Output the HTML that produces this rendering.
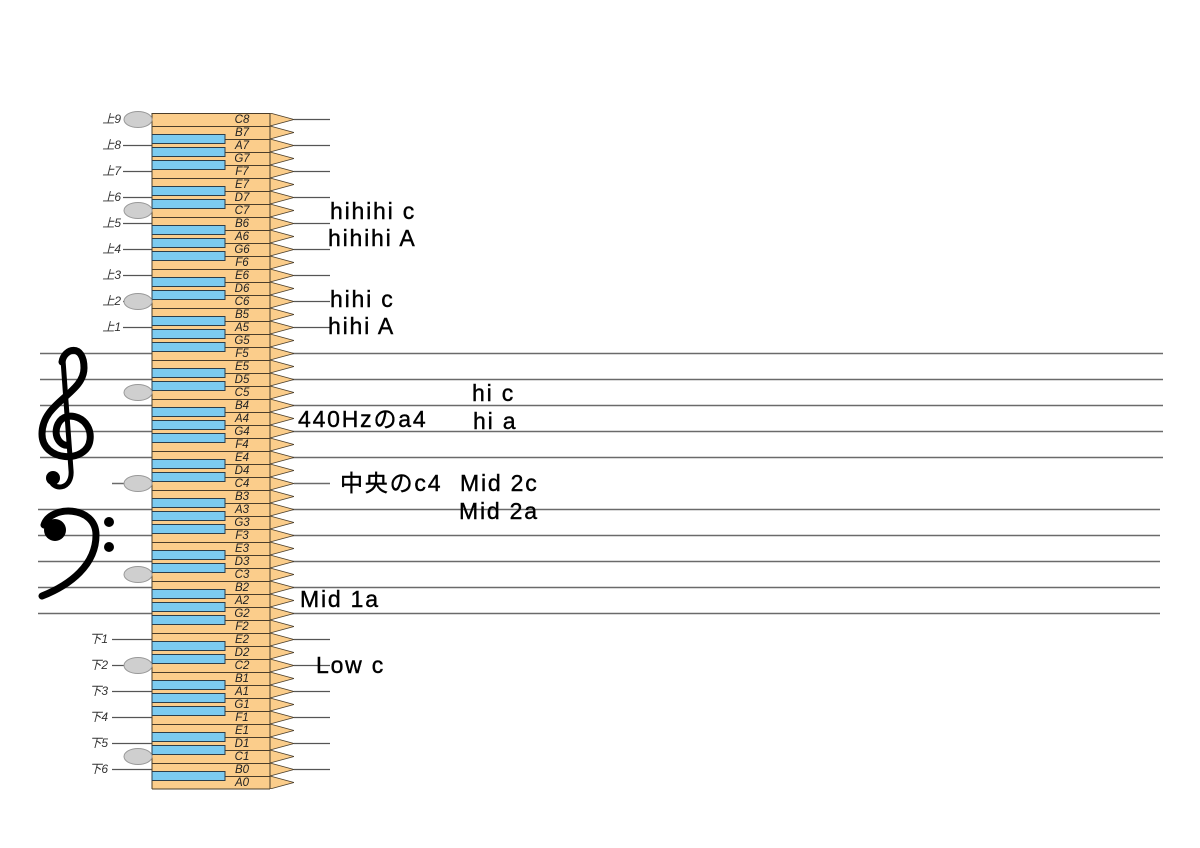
<!DOCTYPE html>
<html><head><meta charset="utf-8"><style>
html,body{margin:0;padding:0;background:#fff;width:1200px;height:848px;overflow:hidden}
svg{display:block}
.k{font-family:"Liberation Sans",sans-serif;font-style:italic;font-size:11.5px;fill:#222;text-anchor:middle}
.l{font-family:"Liberation Sans","Noto Sans CJK JP",sans-serif;font-style:italic;font-size:12px;fill:#333;text-anchor:end}
.b{font-family:"Liberation Sans","Noto Sans CJK JP",sans-serif;font-size:23px;letter-spacing:1.8px;fill:#000;stroke:#000;stroke-width:0.4}
</style></head><body>
<svg id="s" width="1200" height="848" viewBox="0 0 1200 848" xmlns="http://www.w3.org/2000/svg">
<defs>
<pattern id="kp" x="0" y="113" width="300" height="13" patternUnits="userSpaceOnUse">
<rect x="152" y="0" width="118" height="13" fill="#fbcd8b"/>
<line x1="152" y1="0.5" x2="270" y2="0.5" stroke="#4a3d2a" stroke-width="1"/>
<polygon points="270,0 294,6.5 270,13" fill="#fbcd8b" stroke="#4a3d2a" stroke-width="0.8"/>
</pattern>
</defs>
<g stroke="#6a6a6a" stroke-width="1.6">
<line x1="40" y1="353.5" x2="1163" y2="353.5"/>
<line x1="40" y1="379.5" x2="1163" y2="379.5"/>
<line x1="40" y1="405.5" x2="1163" y2="405.5"/>
<line x1="40" y1="431.5" x2="1163" y2="431.5"/>
<line x1="40" y1="457.5" x2="1163" y2="457.5"/>
<line x1="38" y1="509.5" x2="1160" y2="509.5"/>
<line x1="38" y1="535.5" x2="1160" y2="535.5"/>
<line x1="38" y1="561.5" x2="1160" y2="561.5"/>
<line x1="38" y1="587.5" x2="1160" y2="587.5"/>
<line x1="38" y1="613.5" x2="1160" y2="613.5"/>
<line x1="112" y1="483.5" x2="152" y2="483.5"/><line x1="294" y1="483.5" x2="330" y2="483.5"/>
</g>
<g id="ledg" stroke="#555" stroke-width="1.3"></g>
<rect x="152" y="113" width="142" height="676" fill="url(#kp)"/>
<line x1="152" y1="789" x2="270" y2="789" stroke="#4a3d2a"/>
<line x1="152" y1="113" x2="152" y2="789" stroke="#4a3d2a"/>
<line x1="270" y1="113" x2="270" y2="789" stroke="#4a3d2a"/>
<g id="blk"></g>
<g id="ov" fill="#cfcfcf" stroke="#999" stroke-width="1"></g>
<g class="k">
<text x="242" y="123">C8</text><text x="242" y="136">B7</text><text x="242" y="149">A7</text><text x="242" y="162">G7</text><text x="242" y="175">F7</text><text x="242" y="188">E7</text><text x="242" y="201">D7</text><text x="242" y="214">C7</text><text x="242" y="227">B6</text><text x="242" y="240">A6</text><text x="242" y="253">G6</text><text x="242" y="266">F6</text><text x="242" y="279">E6</text><text x="242" y="292">D6</text><text x="242" y="305">C6</text><text x="242" y="318">B5</text><text x="242" y="331">A5</text><text x="242" y="344">G5</text><text x="242" y="357">F5</text><text x="242" y="370">E5</text><text x="242" y="383">D5</text><text x="242" y="396">C5</text><text x="242" y="409">B4</text><text x="242" y="422">A4</text><text x="242" y="435">G4</text><text x="242" y="448">F4</text><text x="242" y="461">E4</text><text x="242" y="474">D4</text><text x="242" y="487">C4</text><text x="242" y="500">B3</text><text x="242" y="513">A3</text><text x="242" y="526">G3</text><text x="242" y="539">F3</text><text x="242" y="552">E3</text><text x="242" y="565">D3</text><text x="242" y="578">C3</text><text x="242" y="591">B2</text><text x="242" y="604">A2</text><text x="242" y="617">G2</text><text x="242" y="630">F2</text><text x="242" y="643">E2</text><text x="242" y="656">D2</text><text x="242" y="669">C2</text><text x="242" y="682">B1</text><text x="242" y="695">A1</text><text x="242" y="708">G1</text><text x="242" y="721">F1</text><text x="242" y="734">E1</text><text x="242" y="747">D1</text><text x="242" y="760">C1</text><text x="242" y="773">B0</text><text x="242" y="786">A0</text>
</g>
<g class="l">
<text x="121" y="123">上9</text><text x="121" y="149">上8</text><text x="121" y="175">上7</text><text x="121" y="201">上6</text><text x="121" y="227">上5</text><text x="121" y="253">上4</text><text x="121" y="279">上3</text><text x="121" y="305">上2</text><text x="121" y="331">上1</text>
<text x="108" y="643">下1</text><text x="108" y="669">下2</text><text x="108" y="695">下3</text><text x="108" y="721">下4</text><text x="108" y="747">下5</text><text x="108" y="773">下6</text>
</g>
<g class="b">
<text x="330" y="219">hihihi c</text>
<text x="328" y="246">hihihi A</text>
<text x="330" y="307">hihi c</text>
<text x="328" y="334">hihi A</text>
<text x="472" y="401">hi c</text>
<text x="473" y="429">hi a</text>
<text x="298" y="427">440Hzのa4</text>
<text x="340" y="491">中央のc4</text>
<text x="460" y="491">Mid 2c</text>
<text x="459" y="519">Mid 2a</text>
<text x="300" y="607">Mid 1a</text>
<text x="316" y="673">Low c</text>
</g>
<g fill="none" stroke="#000" stroke-linecap="round">
<path d="M62,362 C64,348 84,343 84,368 C84,394 42,402 42,434 C42,462 87,464 90,440 C93,418 66,408 58,424 C52,437 62,447 68,445" stroke-width="7"/>
<path d="M63,360 L71,470 C73,490 52,492 50,478" stroke-width="5"/>
<path d="M44,525 C50,505 96,505 96,535 C96,565 70,585 42,596" stroke-width="7"/>
</g>
<g fill="#000">
<circle cx="53" cy="478" r="7"/>
<circle cx="55" cy="530" r="11"/>
<circle cx="109" cy="522" r="5"/>
<circle cx="109" cy="547" r="5"/>
</g>
</svg>
<script>
var ns="http://www.w3.org/2000/svg";
var names="C8 B7 A7 G7 F7 E7 D7 C7 B6 A6 G6 F6 E6 D6 C6 B5 A5 G5 F5 E5 D5 C5 B4 A4 G4 F4 E4 D4 C4 B3 A3 G3 F3 E3 D3 C3 B2 A2 G2 F2 E2 D2 C2 B1 A1 G1 F1 E1 D1 C1 B0 A0".split(" ");
var blk=document.getElementById("blk");
for(var i=0;i<names.length-1;i++){var c=names[i][0];if("BAGED".indexOf(c)>=0){var r=document.createElementNS(ns,"rect");var y=113+13*(i+1);r.setAttribute("x",152);r.setAttribute("y",y-4.5);r.setAttribute("width",73);r.setAttribute("height",9);r.setAttribute("fill","#7ccbf0");r.setAttribute("stroke","#2c3e4a");r.setAttribute("stroke-width","1");blk.appendChild(r);}}
var ov=document.getElementById("ov");
[0,7,14,21,28,35,42,49].forEach(function(i){var e=document.createElementNS(ns,"ellipse");e.setAttribute("cx",138);e.setAttribute("cy",119.5+13*i);e.setAttribute("rx",14);e.setAttribute("ry",8);ov.appendChild(e);});
var lg=document.getElementById("ledg");
[0,2,4,6,8,10,12,14,16,40,42,44,46,48,50].forEach(function(i){var y=119.5+13*i;var x1=(i>=40)?112:123;if(i==0)x1=152;
var a=document.createElementNS(ns,"line");a.setAttribute("x1",x1);a.setAttribute("x2",152);a.setAttribute("y1",y);a.setAttribute("y2",y);lg.appendChild(a);
var b=document.createElementNS(ns,"line");b.setAttribute("x1",294);b.setAttribute("x2",330);b.setAttribute("y1",y);b.setAttribute("y2",y);lg.appendChild(b);});
</script>
</body></html>
